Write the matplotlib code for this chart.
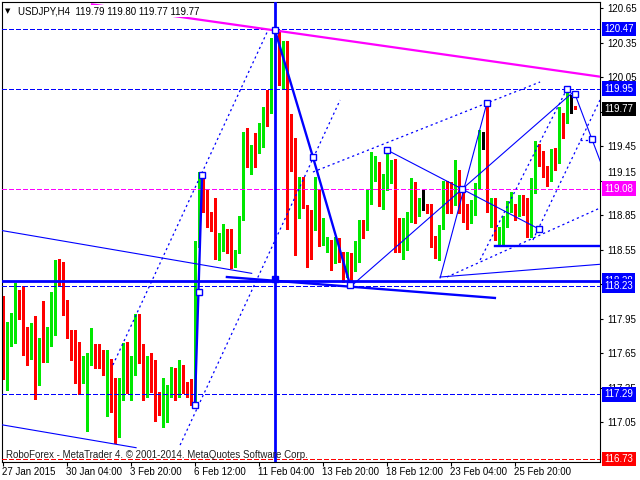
import matplotlib
matplotlib.use('Agg')
import matplotlib.pyplot as plt
import matplotlib.transforms as mtransforms
import numpy as np

# ---------------- data ----------------
opens = [118.11, 117.42, 117.84, 117.83, 118.13, 118.07, 117.79, 117.76, 117.78, 117.55,
         117.77, 117.62, 117.82, 117.96, 118.34, 118.30, 118.03, 117.80, 117.63, 117.44,
         117.42, 116.98, 117.61, 117.70, 117.66, 117.65, 117.29, 117.55, 117.22, 116.99,
         117.40, 117.69, 117.33, 117.60, 117.93, 117.72, 117.27, 117.58, 117.52, 117.24,
         117.16, 117.17, 117.33, 117.44, 117.29, 117.51, 117.37, 117.30, 117.27, 118.58,
         119.17, 119.02, 118.80, 118.78, 118.47, 118.61, 118.67, 118.63, 118.40, 118.53,
         118.81, 119.46, 119.36, 119.43, 119.42, 119.54, 119.78, 119.75, 120.29, 120.44,
         119.99, 120.26, 119.62, 119.47, 118.87, 119.16, 118.92, 118.87, 118.73, 119.07,
         118.70, 118.54, 118.60, 118.51, 118.61, 118.52, 118.37, 118.46, 118.40, 118.51,
         118.77, 118.73, 119.07, 119.21, 119.30, 119.02, 119.13, 119.20, 119.30, 118.78,
         118.62, 118.65, 118.87, 119.10, 118.92, 118.93, 118.94, 118.92, 118.66, 118.49,
         118.76, 119.08, 119.08, 118.99, 119.23, 118.98, 118.87, 118.85, 118.94, 119.09,
         119.50, 119.51, 118.87, 118.95, 118.66, 118.71, 118.84, 118.94, 118.92, 118.85,
         119.01, 118.95, 118.69, 119.13, 119.41, 119.39, 119.24, 119.16, 119.41, 119.31,
         119.71, 119.69, 119.79, 119.79]
highs = [118.15, 117.92, 118.00, 118.26, 118.20, 118.23, 117.88, 117.91, 117.97, 117.78,
         118.10, 117.88, 118.18, 118.46, 118.47, 118.44, 118.11, 117.85, 117.85, 117.75,
         117.62, 117.65, 117.87, 117.73, 117.73, 117.68, 117.68, 117.60, 117.43, 117.43,
         117.74, 117.75, 117.62, 117.99, 117.99, 117.73, 117.62, 117.65, 117.59, 117.31,
         117.43, 117.37, 117.53, 117.52, 117.59, 117.55, 117.40, 117.42, 118.62, 119.22,
         119.20, 119.08, 118.88, 119.00, 118.69, 118.77, 118.73, 118.73, 118.55, 118.84,
         119.57, 119.61, 119.46, 119.56, 119.65, 119.79, 119.94, 120.39, 120.47, 120.46,
         120.36, 120.36, 119.73, 119.52, 119.18, 119.18, 118.94, 118.89, 119.18, 119.08,
         118.82, 118.66, 118.63, 118.66, 118.65, 118.53, 118.53, 118.52, 118.62, 118.81,
         118.81, 119.08, 119.40, 119.36, 119.31, 119.21, 119.42, 119.33, 119.34, 118.82,
         118.82, 118.88, 119.17, 119.14, 119.00, 119.08, 118.95, 118.95, 118.67, 118.76,
         119.15, 119.15, 119.14, 119.33, 119.24, 119.05, 118.95, 118.98, 119.13, 119.59,
         119.57, 119.82, 119.00, 119.00, 118.75, 118.84, 118.97, 119.05, 118.95, 119.02,
         119.02, 119.00, 119.17, 119.49, 119.47, 119.41, 119.28, 119.42, 119.43, 119.79,
         119.74, 119.95, 119.89, 119.80]
lows = [117.42, 117.33, 117.71, 117.74, 117.95, 117.63, 117.55, 117.60, 117.25, 117.37,
        117.57, 117.57, 117.71, 117.81, 118.24, 117.98, 117.78, 117.59, 117.39, 117.29,
        117.39, 116.97, 117.55, 117.52, 117.52, 117.46, 117.10, 117.14, 116.87, 116.92,
        117.24, 117.30, 117.24, 117.46, 117.56, 117.24, 117.27, 117.31, 117.06, 117.11,
        117.01, 117.05, 117.27, 117.24, 117.27, 117.30, 117.27, 117.20, 117.21, 118.57,
        118.88, 118.75, 118.71, 118.47, 118.46, 118.54, 118.52, 118.39, 118.40, 118.52,
        118.81, 119.27, 119.21, 119.27, 119.39, 119.44, 119.62, 119.74, 120.29, 119.98,
        119.95, 118.73, 119.23, 118.50, 118.82, 118.91, 118.40, 118.47, 118.72, 118.58,
        118.59, 118.53, 118.37, 118.43, 118.44, 118.27, 118.31, 118.23, 118.36, 118.44,
        118.65, 118.72, 118.95, 119.15, 118.93, 118.90, 119.07, 119.13, 118.53, 118.53,
        118.47, 118.55, 118.79, 118.78, 118.84, 118.89, 118.87, 118.57, 118.48, 118.46,
        118.73, 118.87, 118.87, 118.94, 118.87, 118.79, 118.73, 118.78, 118.85, 119.08,
        119.42, 118.88, 118.75, 118.63, 118.60, 118.60, 118.75, 118.88, 118.81, 118.84,
        118.85, 118.66, 118.66, 119.04, 119.28, 119.18, 119.10, 119.15, 119.24, 119.30,
        119.52, 119.65, 119.74, 119.77]
closes = [117.43, 117.86, 117.86, 118.12, 118.08, 117.79, 117.75, 117.79, 117.54, 117.76,
          117.61, 117.84, 117.95, 118.33, 118.26, 118.02, 117.81, 117.63, 117.44, 117.41,
          117.55, 117.61, 117.69, 117.67, 117.62, 117.52, 117.60, 117.29, 116.99, 117.40,
          117.70, 117.34, 117.57, 117.94, 117.62, 117.27, 117.57, 117.50, 117.27, 117.15,
          117.20, 117.32, 117.44, 117.29, 117.51, 117.36, 117.29, 117.27, 118.58, 119.16,
          119.13, 118.78, 118.78, 118.47, 118.60, 118.68, 118.61, 118.40, 118.55, 118.81,
          119.47, 119.35, 119.41, 119.41, 119.55, 119.78, 119.74, 120.30, 120.44, 120.00,
          120.26, 119.62, 119.46, 118.85, 119.03, 119.07, 118.47, 118.49, 119.05, 118.69,
          118.75, 118.59, 118.51, 118.62, 118.52, 118.33, 118.47, 118.44, 118.50, 118.75,
          118.73, 119.08, 119.23, 119.30, 119.02, 119.15, 119.22, 119.24, 118.78, 118.62,
          118.65, 118.87, 119.10, 118.92, 118.94, 118.93, 118.89, 118.66, 118.49, 118.75,
          119.01, 118.99, 118.99, 119.23, 118.88, 118.87, 118.80, 118.95, 119.10, 119.52,
          119.50, 118.97, 118.95, 118.66, 118.68, 118.75, 118.92, 119.02, 118.85, 119.01,
          118.88, 118.71, 119.11, 119.46, 119.39, 119.26, 119.15, 119.40, 119.32, 119.77,
          119.62, 119.78, 119.79, 119.77]

time_tick_bars = [0, 16, 32, 48, 64, 80, 96, 112, 128]
time_tick_labels = ["27 Jan 2015", "30 Jan 04:00", "3 Feb 20:00", "6 Feb 12:00",
                    "11 Feb 04:00", "13 Feb 20:00", "18 Feb 12:00", "23 Feb 04:00",
                    "25 Feb 20:00"]
price_ticks = [120.65, 120.35, 120.05, 119.75, 119.45, 119.15, 118.85, 118.55,
               118.25, 117.95, 117.65, 117.35, 117.05]
hidden_ticks = [119.75, 118.25]   # covered by price boxes in the terminal
nudged_tick = 119.15              # label pushed up above the 119.08 box

level_prices = [120.47, 119.95, 119.08, 118.23, 117.29, 116.73]
level_colors = ['#0000FF', '#0000FF', '#FF00FF', '#0000FF', '#0000FF', '#FF0000']
support_price = 118.28
last_price = 119.77
vline_bar = 67.9

# drawing objects (bar index, price)
magenta_line = [(21.9, 120.683), (149.2, 120.053)]
zigzag_a = [(47.9, 117.198), (49.7, 119.198)]
zigzag_b = [(67.9, 120.459), (77.4, 119.355), (86.7, 118.242)]
thick_segments = [[(55.9, 118.311), (122.9, 118.129)],
                  [(122.9, 118.581), (150.0, 118.581)]]
thin_segments = [[(-0.5, 118.716), (62.1, 118.343)],
                 [(-0.5, 117.027), (33.2, 116.827)],
                 [(86.7, 118.224), (142.2, 119.911)],
                 [(95.9, 119.416), (133.9, 118.729)],
                 [(109.2, 118.303), (120.9, 119.824)],
                 [(109.2, 118.311), (150.0, 118.424)],
                 [(142.9, 119.903), (150.0, 119.247)]]
dotted_segments = [[(27.4, 117.546), (66.2, 120.459)],
                   [(44.2, 116.850), (84.2, 119.850)],
                   [(77.4, 119.224), (134.2, 120.007)],
                   [(119.2, 118.459), (140.9, 119.946)],
                   [(132.4, 118.633), (150.0, 119.910)],
                   [(110.9, 118.311), (150.0, 118.924)],
                   [(144.2, 119.503), (147.2, 119.503)]]
box_points = [(67.9, 120.459), (77.4, 119.355), (86.7, 118.242), (47.9, 117.198),
              (49.7, 119.198), (48.9, 118.18), (95.9, 119.416), (114.7, 119.077),
              (120.9, 119.824), (133.9, 118.729), (140.9, 119.946), (142.9, 119.903),
              (147.2, 119.511)]
filled_box = (67.9, 118.294)

# ---------------- figure ----------------
plt.rcParams['font.family'] = ['Liberation Sans', 'DejaVu Sans']
plt.rcParams['lines.scale_dashes'] = False

W, H = 640, 480
fig = plt.figure(figsize=(6.4, 4.8), dpi=100)
fig.patch.set_facecolor('white')
ax = fig.add_axes([2 / W, 18.5 / H, 598 / W, 459.8 / H])
ax.set_xlim(-0.325, 149.175)
ax.set_ylim(116.707, 120.705)

BLUE = '#0000FF'
MAG = '#FF00FF'
GREEN = '#00E800'
RED = '#FF0000'

o = np.array(opens); h = np.array(highs); l = np.array(lows); c = np.array(closes)
idx = np.arange(len(o))
cols = np.where(c > o, GREEN, np.where(c < o, RED, '#000000'))
ax.vlines(idx, l, h, colors=cols, lw=0.75, zorder=2, antialiased=False)
ax.bar(idx, np.maximum(np.abs(c - o), 0.009), bottom=np.minimum(o, c), width=0.74,
       color=cols, linewidth=0, zorder=2.1, antialiased=False)

# horizontal levels
for p, col in zip(level_prices, level_colors):
    ax.axhline(p, color=col, lw=0.75, linestyle=(0, (2.9, 1.9)), zorder=3,
               antialiased=False)
ax.axhline(support_price, color=BLUE, lw=2.0, zorder=3.2)
ax.axvline(vline_bar, color=BLUE, lw=2.0, zorder=3.2)

# magenta trend line
ax.plot(*zip(*magenta_line), color=MAG, lw=1.6, zorder=3.3, solid_capstyle='butt')

for seg in thick_segments:
    ax.plot(*zip(*seg), color=BLUE, lw=1.7, zorder=3.3)
ax.plot(*zip(*zigzag_a), color=BLUE, lw=1.7, zorder=3.4)
ax.plot(*zip(*zigzag_b), color=BLUE, lw=1.7, zorder=3.4)
for seg in thin_segments:
    ax.plot(*zip(*seg), color=BLUE, lw=0.8, zorder=3.3)
for seg in dotted_segments:
    ax.plot(*zip(*seg), color=BLUE, lw=0.9, linestyle=(0, (1.6, 2.2)), zorder=3.3)

bx, by = zip(*box_points)
ax.plot(bx, by, linestyle='none', marker='s', ms=4, mfc='white', mec=BLUE, mew=1.0, zorder=4)
ax.plot([filled_box[0]], [filled_box[1]], linestyle='none', marker='s', ms=4.5,
        mfc=BLUE, mec=BLUE, zorder=4)

# axes styling
for s in ax.spines.values():
    s.set_color('black')
    s.set_linewidth(0.8)
ax.yaxis.tick_right()
ax.set_yticks(price_ticks)
ax.set_yticklabels(['' if v in hidden_ticks else '%.2f' % v for v in price_ticks])
ax.tick_params(axis='y', length=2.5, width=0.8, pad=2.5, labelsize=7, colors='black')
up_shift = mtransforms.ScaledTranslation(0, 9 / 100, fig.dpi_scale_trans)
for v, lab in zip(price_ticks, ax.get_yticklabels()):
    if v == nudged_tick:
        lab.set_transform(lab.get_transform() + up_shift)
ax.set_xticks(time_tick_bars)
ax.set_xticklabels(time_tick_labels, ha='left')
ax.tick_params(axis='x', length=3, width=0.8, pad=1.0, labelsize=7, colors='black')
offset = mtransforms.ScaledTranslation(-1.5 / 100, 0, fig.dpi_scale_trans)
for lab in ax.get_xticklabels():
    lab.set_transform(lab.get_transform() + offset)

# price boxes on right axis
box_labels = [(120.47, BLUE), (119.95, BLUE), (last_price, '#000000'), (119.08, MAG),
              (118.28, BLUE), (118.23, BLUE), (117.29, BLUE), (116.73, RED)]
trans = mtransforms.blended_transform_factory(ax.transAxes, ax.transData)
trans = trans + mtransforms.ScaledTranslation(4.5 / 100, 0, fig.dpi_scale_trans)
for p, col in box_labels:
    ax.text(1.0, p, '%.2f' % p, transform=trans, ha='left', va='center', fontsize=7,
            color='white', clip_on=False, zorder=10,
            bbox=dict(boxstyle='square,pad=0.22', fc=col, ec=col, lw=0))

# title & watermark
fig.text(5 / W, 1 - 11.5 / H, '\u25BC', fontsize=5, family='DejaVu Sans', va='center',
         ha='left', color='black')
fig.text(18 / W, 1 - 11 / H, 'USDJPY,H4  119.79 119.80 119.77 119.77', fontsize=7,
         va='center', ha='left', color='black',
         bbox=dict(boxstyle='square,pad=0.1', fc='white', ec='none'))
fig.text(6 / W, 1 - 455 / H,
         'RoboForex - MetaTrader 4. \u00a9 2001-2014. MetaQuotes Software Corp.',
         fontsize=7, va='center', ha='left', color='#202020')

fig.savefig('out.png', dpi=100)
